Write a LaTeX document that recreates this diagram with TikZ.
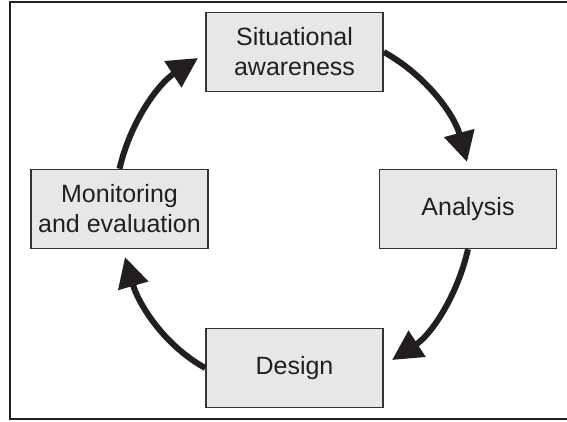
\documentclass[tikz,border=0pt]{standalone}
\usepackage{fontspec}
\setmainfont{Liberation Sans}
\usetikzlibrary{arrows.meta}
\definecolor{boxfill}{HTML}{E6E7E8}
\definecolor{boxline}{HTML}{333333}
\definecolor{ink}{HTML}{231F20}
\tikzset{
  stagebox/.style={draw=boxline, line width=1.5pt, fill=boxfill, minimum width=177pt, minimum height=79pt,
    inner sep=0pt, align=center, text=ink, font=\fontsize{25}{30}\selectfont},
  cyc/.style={draw=ink, line width=6pt, -{Triangle[length=30pt,width=30pt]}, looseness=0.9},
  frame/.style={draw=ink, line width=2.5pt}
}
\begin{document}
\begin{tikzpicture}[x=1pt,y=1pt]
\useasboundingbox (0,0) rectangle (567,421);
\draw[frame] (570,419) -- (10,419) -- (10,2) -- (570,2);
\node[stagebox] (sit) at (294.5,369) {Situational\\awareness};
\node[stagebox] (ana) at (468,212) {Analysis};
\node[stagebox] (des) at (294.5,53) {Design};
\node[stagebox] (mon) at (119.5,212) {Monitoring\\and evaluation};
\coordinate (t1) at (467,259);
\coordinate (t2) at (392,61);
\coordinate (t3) at (125,164);
\coordinate (t4) at (198,363);
\draw[cyc] (sit.east) to[out=-29,in=105] (t1);
\draw[cyc] (ana.south) to[out=-103,in=33] (t2);
\draw[cyc] (des.west) to[out=151,in=-74] (t3);
\draw[cyc] (mon.north) to[out=77,in=-147] (t4);
\end{tikzpicture}
\end{document}
